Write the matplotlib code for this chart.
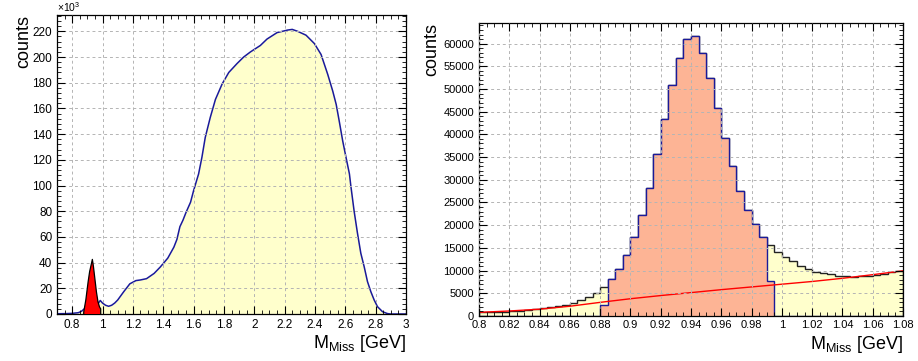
import numpy as np
import matplotlib
matplotlib.use("Agg")
from matplotlib import pyplot as plt
from matplotlib.ticker import MultipleLocator, FormatStrFormatter

plt.rcParams['font.family'] = ['Liberation Sans', 'DejaVu Sans']
plt.rcParams['mathtext.fontset'] = 'custom'
plt.rcParams['mathtext.rm'] = 'Liberation Sans'
plt.rcParams['mathtext.it'] = 'Liberation Sans:italic'

# ---- left panel: full missing mass spectrum (counts in 10^3) ----
full_mass = [0.70, 0.76, 0.80, 0.84, 0.86, 0.87, 0.88, 0.90, 0.93, 0.95, 0.97,
             0.985, 1.00, 1.02, 1.04, 1.06, 1.08, 1.10, 1.14, 1.18, 1.22, 1.25,
             1.29, 1.34, 1.38, 1.43, 1.47, 1.49, 1.51, 1.53, 1.55, 1.58, 1.60,
             1.633, 1.655, 1.677, 1.71, 1.744, 1.788, 1.832, 1.887, 1.93, 1.975,
             2.04, 2.084, 2.15, 2.22, 2.25, 2.286, 2.341, 2.396, 2.44, 2.484,
             2.517, 2.54, 2.56, 2.583, 2.605, 2.627, 2.636, 2.658, 2.68, 2.702,
             2.724, 2.746, 2.768, 2.79, 2.812, 2.845, 2.878, 2.90, 3.0]
full_counts = [0.2, 0.3, 0.5, 1.0, 2.0, 3.0, 4.0, 8.0, 25.0, 15.0, 8.0,
               10.5, 8.5, 6.8, 6.0, 6.8, 8.5, 10.9, 17.4, 23.5, 26.0, 26.5,
               27.5, 31.6, 36.5, 43.5, 52.0, 58.0, 68.0, 73.0, 79.0, 87.0, 96.0,
               109.0, 122.0, 137.5, 153.0, 167.0, 179.0, 188.0, 195.0, 200.0, 204.0,
               209.0, 214.0, 219.0, 221.0, 221.5, 220.0, 217.0, 210.5, 202.0, 186.5,
               173.5, 163.0, 150.0, 134.5, 121.6, 109.0, 100.0, 80.0, 62.9, 47.3,
               36.9, 25.2, 17.4, 10.9, 5.7, 1.8, 0.3, 0.0, 0.0]

peak_mass = [0.876, 0.89, 0.905, 0.915, 0.933, 0.94, 0.95, 0.96, 0.97, 0.98, 0.988]
peak_counts = [1.5, 11.0, 25.0, 33.0, 42.5, 37.0, 27.0, 17.0, 9.5, 5.5, 4.0]

# ---- right panel: zoom on the neutron peak, 5 MeV bins ----
bin_edges = np.round(np.arange(0.800, 1.0801, 0.005), 3)
total = [800, 820, 870, 950, 1080, 1200, 1330, 1450, 1650, 1900, 2200, 2500,
         2950, 3450, 4100, 5050, 6300,
         8070, 10270, 13350, 17310, 22220, 28300, 35640, 43340, 50970, 56760,
         61010, 61600, 58010, 52440, 45910, 39160, 33070, 27570, 23320, 20310,
         17310,
         15550,
         14000, 13050, 12050, 11000, 10270, 9750, 9450, 9170, 8880, 8700, 8650,
         8700, 8850, 9000, 9300, 9650, 9850]
signal = [0] * 16 + [2400] + total[17:38] + [7630] + [0] * 17

fit_mass = [0.80, 0.82, 0.84, 0.86, 0.88, 0.90, 0.92, 0.94, 0.96, 0.98, 1.00,
            1.02, 1.04, 1.06, 1.08]
fit_counts = [800, 1100, 1500, 2150, 3000, 3800, 4500, 5150, 5800, 6400, 7000,
              7600, 8300, 9100, 9950]

yellow = '#ffffcc'
dark_blue = '#1a1a9a'
grid_kw = dict(color='#b4b4b4', linestyle=(0, (3, 3)), linewidth=0.7)

fig = plt.figure(figsize=(9.18, 3.61), dpi=100)
ax1 = fig.add_axes([0.0621, 0.1302, 0.3802, 0.8282])
ax2 = fig.add_axes([0.5218, 0.1247, 0.4619, 0.8124])

# left
ax1.fill_between(full_mass, full_counts, color=yellow, linewidth=0)
ax1.plot(full_mass, full_counts, color=dark_blue, linewidth=1.1)
px = [peak_mass[0]] + peak_mass + [peak_mass[-1]]
py = [0] + peak_counts + [0]
ax1.fill(px, py, color='#ff0000', linewidth=0, zorder=3)
ax1.plot(px, py, color='black', linewidth=0.9, zorder=4)
ax1.set_xlim(0.7, 3.0)
ax1.set_ylim(0, 232.7)
ax1.xaxis.set_major_locator(MultipleLocator(0.2))
ax1.xaxis.set_minor_locator(MultipleLocator(0.05))
ax1.yaxis.set_major_locator(MultipleLocator(20))
ax1.yaxis.set_minor_locator(MultipleLocator(4))
ax1.xaxis.set_major_formatter(FormatStrFormatter('%g'))
ax1.tick_params(labelsize=8.5)
fig.text(0.0621, 0.962, r'$\times$10$^{3}$', fontsize=7.5, ha='left', va='bottom')
ax1.text(-0.095, 1.0, 'counts', transform=ax1.transAxes, rotation=90,
         fontsize=13, ha='center', va='top')

# right
ax2.stairs(total, bin_edges, fill=True, color=yellow)
ax2.stairs(total, bin_edges, color='#222222', linewidth=1.0)
ax2.stairs(signal, bin_edges, fill=True, color='#fdb495')
ax2.stairs(signal, bin_edges, color=dark_blue, linewidth=1.0)
ax2.plot(fit_mass, fit_counts, color='#ff0000', linewidth=1.0)
ax2.set_xlim(0.8, 1.08)
ax2.set_ylim(0, 64600)
ax2.xaxis.set_major_locator(MultipleLocator(0.02))
ax2.xaxis.set_minor_locator(MultipleLocator(0.005))
ax2.yaxis.set_major_locator(MultipleLocator(5000))
ax2.yaxis.set_minor_locator(MultipleLocator(1000))
ax2.xaxis.set_major_formatter(FormatStrFormatter('%g'))
ax2.tick_params(labelsize=8)
ax2.tick_params(axis='x', pad=3)
ax2.text(-0.112, 1.0, 'counts', transform=ax2.transAxes, rotation=90,
         fontsize=13, ha='center', va='top')

for ax in (ax1, ax2):
    ax.grid(True, which='major', **grid_kw)
    ax.set_axisbelow(False)
    ax.tick_params(which='both', direction='in', top=True, right=True)
    ax.tick_params(which='major', length=6, width=0.8)
    ax.tick_params(which='minor', length=3, width=0.6)
    for s in ax.spines.values():
        s.set_linewidth(0.9)
    ax.text(1.0, -0.062, r'M$_{\mathrm{Miss}}$ [GeV]', transform=ax.transAxes,
            fontsize=13, ha='right', va='top')

fig.savefig('out.png', dpi=100)
